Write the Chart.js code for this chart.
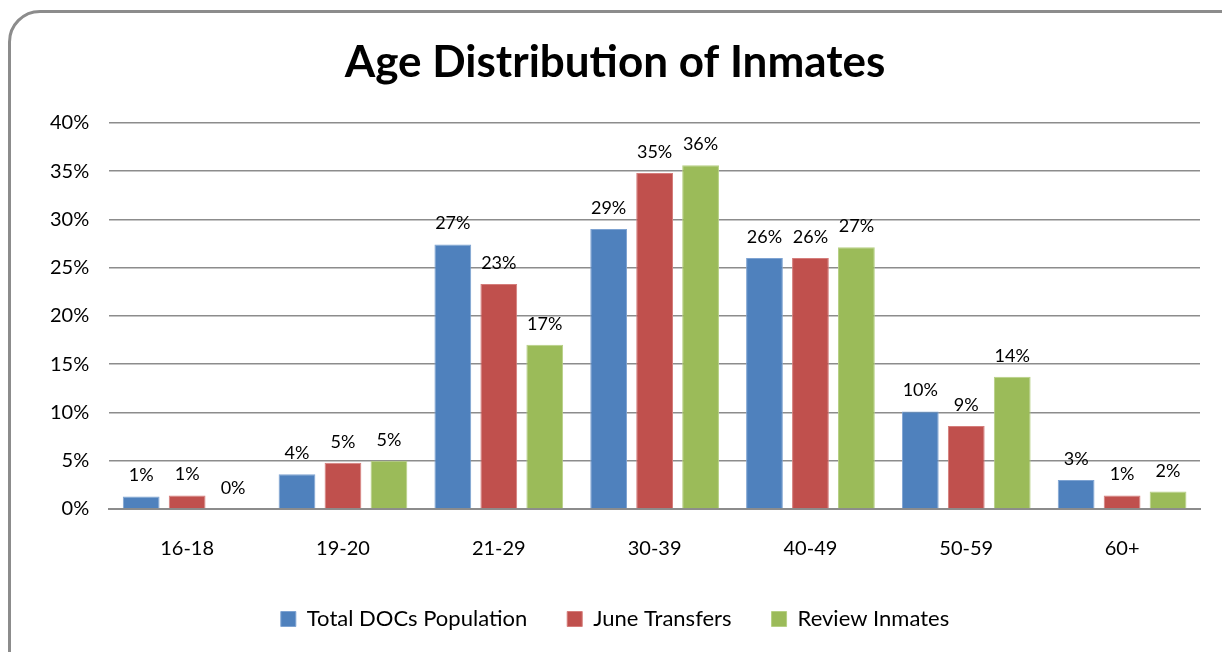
<!DOCTYPE html>
<html>
<head>
<meta charset="utf-8">
<script src="https://cdn.jsdelivr.net/npm/chart.js@4/dist/chart.umd.min.js"></script>
<style>
  html, body { margin: 0; padding: 0; background: #fff; }
  #wrap { position: relative; width: 1222px; height: 652px; overflow: hidden; }
  #frame {
    position: absolute; left: 8px; top: 10px; width: 1250px; height: 700px;
    border: 3px solid #8c8c8c; border-radius: 32px; box-sizing: border-box;
  }
  #chart { position: absolute; left: 0; top: 0; }
</style>
</head>
<body>
<div id="wrap">
  <div id="frame"></div>
  <canvas id="chart" width="1222" height="652"></canvas>
</div>
<script>
// Dados
const categories = ['16-18', '19-20', '21-29', '30-39', '40-49', '50-59', '60+'];
const totalDocs = [1.3, 3.6, 27.4, 29.0, 26.0, 10.1, 3.0];
const juneTransfers = [1.4, 4.8, 23.3, 34.8, 26.0, 8.6, 1.4];
const reviewInmates = [0.0, 5.0, 17.0, 35.6, 27.1, 13.7, 1.8];
const seriesNames = ['Total DOCs Population', 'June Transfers', 'Review Inmates'];
const seriesColors = ['#4f81bd', '#c0504d', '#9bbb59'];
const borderColors = ['#7ea3d2', '#d57d7b', '#b6d084'];

const fontFamily = 'Lato, "Open Sans", sans-serif';

// Rótulos de dados acima das barras
const valueLabels = {
    id: 'valueLabels',
    afterDatasetsDraw(chart) {
        const ctx = chart.ctx;
        ctx.save();
        ctx.font = '18px ' + fontFamily;
        ctx.fillStyle = '#000';
        ctx.textAlign = 'center';
        ctx.textBaseline = 'alphabetic';
        chart.data.datasets.forEach((ds, i) => {
            chart.getDatasetMeta(i).data.forEach((bar, j) => {
                ctx.fillText(Math.round(ds.data[j]) + '%', bar.x, bar.y - 15);
            });
        });
        ctx.restore();
    }
};

const datasets = [totalDocs, juneTransfers, reviewInmates].map((data, i) => ({
    label: seriesNames[i],
    data: data,
    backgroundColor: seriesColors[i],
    borderColor: borderColors[i],
    borderWidth: 1,
    categoryPercentage: 0.885,
    barPercentage: 0.8
}));

new Chart(document.getElementById('chart').getContext('2d'), {
    type: 'bar',
    data: { labels: categories, datasets: datasets },
    options: {
        responsive: false,
        animation: false,
        layout: { padding: { left: 30, right: 22, top: 20, bottom: 12 } },
        plugins: {
            title: {
                display: true,
                text: 'Age Distribution of Inmates',
                color: '#000',
                font: { family: fontFamily, size: 44, weight: 'bold' },
                padding: { top: 16, bottom: 34 }
            },
            legend: {
                position: 'bottom',
                labels: {
                    color: '#000',
                    font: { family: fontFamily, size: 22 },
                    boxWidth: 15,
                    boxHeight: 15,
                    padding: 40
                }
            },
            tooltip: { enabled: false }
        },
        scales: {
            y: {
                min: 0,
                max: 40,
                ticks: {
                    stepSize: 5,
                    color: '#000',
                    font: { family: fontFamily, size: 20 },
                    padding: 20,
                    callback: v => v + '%'
                },
                grid: { color: '#8c8c8c', lineWidth: 1.5, drawTicks: false },
                border: { display: false }
            },
            x: {
                ticks: {
                    color: '#000',
                    font: { family: fontFamily, size: 20 },
                    padding: 28
                },
                grid: { display: false, drawTicks: false },
                border: { color: '#8c8c8c', width: 2 },
                afterFit: scale => { scale.height = 59; }
            }
        }
    },
    plugins: [valueLabels]
});
</script>
</body>
</html>
